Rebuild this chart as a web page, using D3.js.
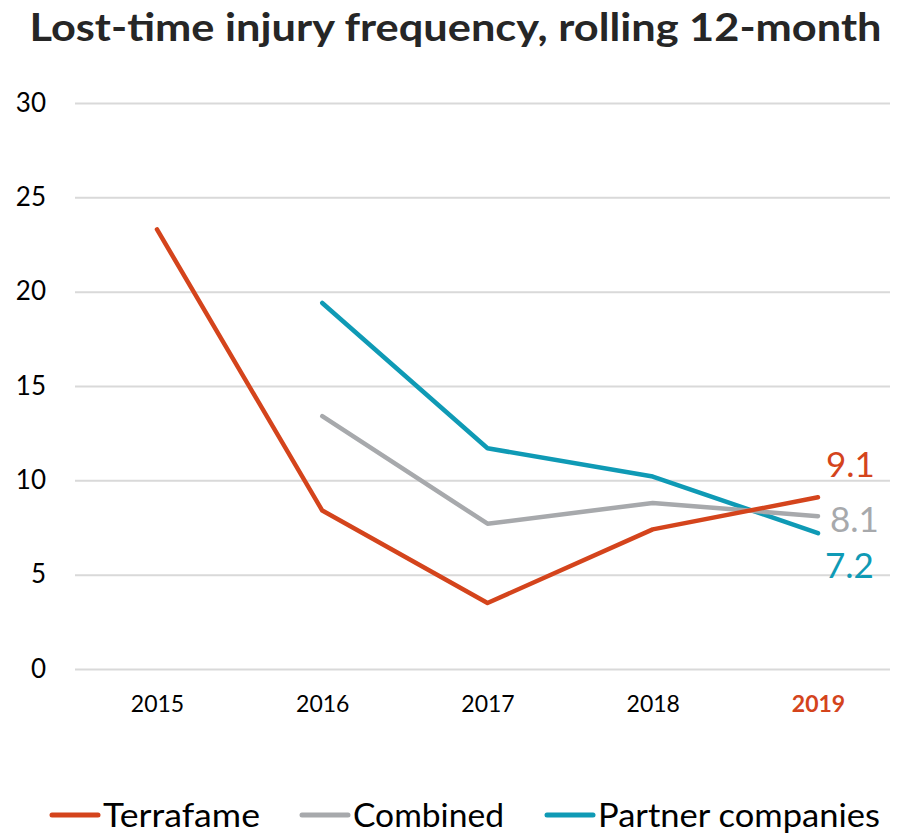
<!DOCTYPE html>
<html>
<head>
<meta charset="utf-8">
<script src="https://cdn.jsdelivr.net/npm/d3@7"></script>
<style>
	body { margin: 0; background: #fff; }
	svg { display: block; font-family: Lato, "Open Sans", sans-serif; }
</style>
</head>
<body>
<div id="wrapper"></div>
<script>
/////////////////////////////////////////////////
// data /////////////////////////////////////////
/////////////////////////////////////////////////

const years = ["2015", "2016", "2017", "2018", "2019"];
const terrafame = [23.3, 8.4, 3.5, 7.4, 9.1];
const combined = [null, 13.4, 7.7, 8.8, 8.1];
const partners = [null, 19.4, 11.7, 10.2, 7.2];
const yTicks = [0, 5, 10, 15, 20, 25, 30];

const series = [
	{ name: "Terrafame", values: terrafame, color: "#d4441c", labelDy: -20, labelDx: 8 },
	{ name: "Combined", values: combined, color: "#a7a9ac", labelDy: 16, labelDx: 12 },
	{ name: "Partner companies", values: partners, color: "#0f9ab5", labelDy: 45, labelDx: 7 }
];

/////////////////////////////////////////////////
// dimensions ///////////////////////////////////
/////////////////////////////////////////////////

const dimensions = {
	width: 899,
	height: 835,
	margin: { top: 103, right: 9, bottom: 166, left: 75 }
};
dimensions.boundedWidth = dimensions.width - dimensions.margin.left - dimensions.margin.right;
dimensions.boundedHeight = dimensions.height - dimensions.margin.top - dimensions.margin.bottom;

const svg = d3.select("#wrapper").append("svg")
	.attr("width", dimensions.width)
	.attr("height", dimensions.height);

// title
svg.append("text")
	.attr("x", dimensions.width / 2 + 6)
	.attr("y", 41)
	.attr("text-anchor", "middle")
	.style("font-size", "39px")
	.style("font-weight", "bold")
	.attr("fill", "#262626")
	.attr("textLength", 852)
	.attr("lengthAdjust", "spacingAndGlyphs")
	.text("Lost-time injury frequency, rolling 12-month");

const bounds = svg.append("g")
	.attr("transform", `translate(${dimensions.margin.left},${dimensions.margin.top})`);

/////////////////////////////////////////////////
// scales ///////////////////////////////////////
/////////////////////////////////////////////////

const xScale = d3.scalePoint()
	.domain(years)
	.range([82, 743]);

const yScale = d3.scaleLinear()
	.domain([0, 30])
	.range([dimensions.boundedHeight, 0]);

/////////////////////////////////////////////////
// axes /////////////////////////////////////////
/////////////////////////////////////////////////

const yAxis = bounds.append("g")
	.call(d3.axisLeft(yScale).tickValues(yTicks).tickSize(-dimensions.boundedWidth).tickPadding(29));
yAxis.select(".domain").remove();
yAxis.selectAll(".tick line").attr("stroke", "#d9d9d9").attr("stroke-width", 2);
yAxis.selectAll(".tick text")
	.attr("fill", "#000")
	.style("font-size", "26px")
	.style("font-family", "Lato, sans-serif");

const xAxis = bounds.append("g")
	.attr("transform", `translate(0,${dimensions.boundedHeight})`)
	.call(d3.axisBottom(xScale).tickSize(0).tickPadding(27));
xAxis.select(".domain").remove();
xAxis.selectAll(".tick text")
	.attr("fill", (d) => d === "2019" ? "#d4441c" : "#000")
	.style("font-weight", (d) => d === "2019" ? "bold" : "normal")
	.style("font-size", "23px")
	.style("font-family", "Lato, sans-serif");

/////////////////////////////////////////////////
// lines ////////////////////////////////////////
/////////////////////////////////////////////////

const lineGenerator = d3.line()
	.defined((d) => d != null)
	.x((d, i) => xScale(years[i]))
	.y((d) => yScale(d));

// draw partner first, then combined, terrafame on top
[series[2], series[1], series[0]].forEach((s) => {
	bounds.append("path")
		.attr("d", lineGenerator(s.values))
		.attr("fill", "none")
		.attr("stroke", s.color)
		.attr("stroke-width", 4.5)
		.attr("stroke-linecap", "round")
		.attr("stroke-linejoin", "round");
});

// end labels
series.forEach((s) => {
	const last = s.values[s.values.length - 1];
	bounds.append("text")
		.attr("x", xScale(years[years.length - 1]) + s.labelDx)
		.attr("y", yScale(last) + s.labelDy)
		.attr("fill", s.color)
		.style("font-size", "35px")
		.text(last.toFixed(1));
});

/////////////////////////////////////////////////
// legend ///////////////////////////////////////
/////////////////////////////////////////////////

const legendX = [50, 300, 545];
const legendTextWidth = [157, 151, 282];
const legend = svg.append("g").attr("transform", "translate(0,815)");
series.forEach((s, i) => {
	const g = legend.append("g").attr("transform", `translate(${legendX[i]},0)`);
	g.append("line")
		.attr("x1", 2).attr("x2", 48)
		.attr("stroke", s.color)
		.attr("stroke-width", 5)
		.attr("stroke-linecap", "round");
	g.append("text")
		.attr("x", 53)
		.attr("y", 12)
		.style("font-size", "32px")
		.attr("fill", "#000")
		.attr("textLength", legendTextWidth[i])
		.attr("lengthAdjust", "spacingAndGlyphs")
		.text(s.name);
});
</script>
</body>
</html>
